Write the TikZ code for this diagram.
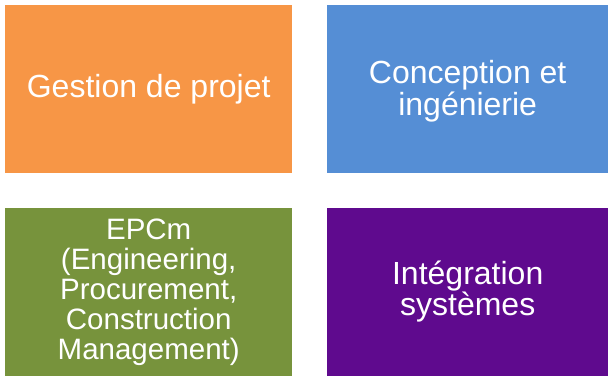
\documentclass[tikz,border=0pt]{standalone}
\usepackage{fontspec}
\setmainfont{Liberation Sans}
\definecolor{cOrange}{HTML}{F79646}
\definecolor{cBlue}{HTML}{558ED5}
\definecolor{cGreen}{HTML}{77933C}
\definecolor{cPurple}{HTML}{5F0A8E}
\begin{document}
\begin{tikzpicture}[x=1pt,y=1pt,
  tile/.style={draw=none,inner sep=0pt,anchor=south west,text=white,
    font=\fontsize{32}{28}\selectfont,align=center}]
\fill[white] (0,0) rectangle (608,376);
\useasboundingbox (0,0) rectangle (608,376);
\node[tile,fill=cOrange,minimum width=287pt,minimum height=168pt] (gp) at (5,203) {Gestion de projet};
\node[tile,fill=cBlue,minimum width=281pt,minimum height=168pt] (ci) at (327,203) {};
\node[text=white,font=\fontsize{32}{28}\selectfont,align=center,yshift=-2.5pt] at (ci.center) {Conception et\\ingénierie};
\node[tile,fill=cGreen,minimum width=287pt,minimum height=168pt,font=\fontsize{29.5}{30}\selectfont] (epcm) at (5,0) {EPCm\\(Engineering,\\Procurement,\\Construction\\Management)};
\node[tile,fill=cPurple,minimum width=281pt,minimum height=168pt] (is) at (327,0) {Intégration\\systèmes};
\end{tikzpicture}
\end{document}
